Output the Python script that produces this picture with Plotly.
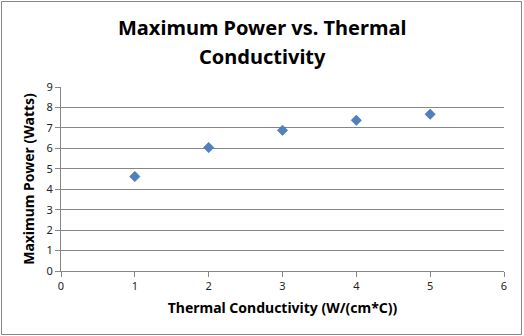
import plotly.graph_objects as go

conductivity = [1, 2, 3, 4, 5]
max_power = [4.62, 6.04, 6.88, 7.37, 7.67]
title_lines = ["Maximum Power vs. Thermal", "Conductivity"]

L, R, T, B = 61, 20, 87, 65
W, H = 524, 336
pw, ph = W - L - R, H - T - B

def px_x(p):
    return (p - L) / pw

def px_y(p):
    return (H - B - p) / ph

fig = go.Figure(go.Scatter(
    x=conductivity, y=max_power, mode="markers",
    marker=dict(symbol="diamond", size=8, color="#4F81BD",
                line=dict(width=0.5, color="#3A6CA8")),
))

annotations = []
for line, cy in zip(title_lines, [27, 56]):
    annotations.append(dict(
        text="<b>%s</b>" % line, xref="paper", yref="paper",
        x=px_x(262), y=px_y(cy), xanchor="center", yanchor="middle",
        showarrow=False,
        font=dict(size=20, family="Noto Sans, sans-serif", color="#000"),
    ))

fig.update_layout(
    width=W, height=H,
    margin=dict(l=L, r=R, t=T, b=B),
    paper_bgcolor="white", plot_bgcolor="white",
    showlegend=False,
    font=dict(family="Noto Sans, DejaVu Sans, sans-serif", color="#000"),
    annotations=annotations,
    xaxis=dict(
        range=[0, 6], dtick=1, tick0=0,
        showgrid=False, zeroline=False,
        showline=True, linecolor="#868686", linewidth=1,
        ticks="outside", ticklen=5, tickcolor="#868686",
        tickfont=dict(size=11, color="#222"),
        title=dict(text="<b>Thermal Conductivity (W/(cm*C))</b>",
                   font=dict(size=14, color="#000"), standoff=10),
    ),
    yaxis=dict(
        range=[0, 9], dtick=1, tick0=0,
        showgrid=True, gridcolor="#868686", gridwidth=1,
        zeroline=False,
        showline=True, linecolor="#868686", linewidth=1,
        ticks="outside", ticklen=5, tickcolor="#868686",
        tickfont=dict(size=11, color="#222"),
        title=dict(text="<b>Maximum Power (Watts)</b>",
                   font=dict(size=14, color="#000"), standoff=8),
    ),
    shapes=[dict(
        type="rect", xref="paper", yref="paper",
        x0=px_x(1.5), x1=px_x(521.5), y0=px_y(334.5), y1=px_y(1.5),
        line=dict(color="#868686", width=1), layer="below",
    )],
)

fig.write_html("out.html")
